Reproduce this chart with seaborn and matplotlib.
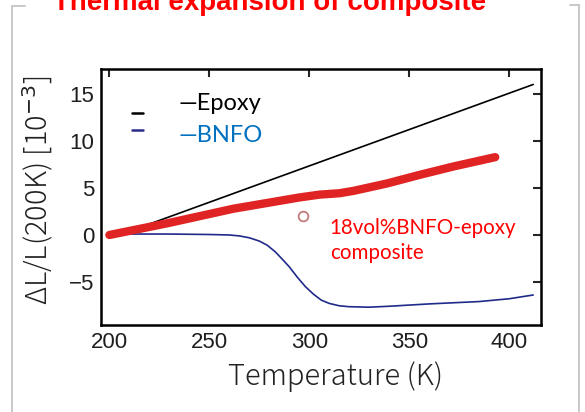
import numpy as np
import pandas as pd
import seaborn as sns
import matplotlib
matplotlib.use("Agg")
from matplotlib import pyplot as plt
from matplotlib.lines import Line2D

# %% data
epoxy_t = [205, 412]
epoxy_v = [0.0, 16.05]

bnfo_t = [200, 210, 230, 250, 260, 265, 270, 275, 279, 283, 287, 290, 294,
          298, 302, 306, 310, 315, 320, 330, 340, 360, 385, 400, 412]
bnfo_v = [0.0, 0.1, 0.1, 0.05, 0.0, -0.1, -0.3, -0.65, -1.1, -1.8, -2.7,
          -3.4, -4.5, -5.5, -6.3, -6.95, -7.3, -7.55, -7.65, -7.7, -7.6,
          -7.35, -7.1, -6.8, -6.4]

comp_t = [200, 229, 262, 295, 305, 315, 322, 339, 355, 372, 393]
comp_v = [0.0, 1.25, 2.8, 4.0, 4.3, 4.45, 4.7, 5.5, 6.4, 7.3, 8.3]

point_t = [297]
point_v = [2.0]

xticks = [200, 250, 300, 350, 400]
yticks = [-5, 0, 5, 10, 15]

# %%
sns.set_style("white")
plt.rcParams['font.family'] = ['Liberation Sans', 'DejaVu Sans']

fig = plt.figure(figsize=(5.85, 4.12), dpi=100)
ax = fig.add_axes([101/585, 87/412, 440/585, 256/412])

df_epoxy = pd.DataFrame({"T": epoxy_t, "v": epoxy_v})
df_bnfo = pd.DataFrame({"T": bnfo_t, "v": bnfo_v})
df_comp = pd.DataFrame({"T": comp_t, "v": comp_v})

sns.lineplot(data=df_bnfo, x="T", y="v", ax=ax, color="#1f2a8a", lw=1.2)
sns.lineplot(data=df_epoxy, x="T", y="v", ax=ax, color="black", lw=1.2)
sns.lineplot(data=df_comp, x="T", y="v", ax=ax, color="#e02424", lw=6,
             solid_capstyle="round")
ax.plot(point_t, point_v, "o", mfc="none", mec="#c47a7a", ms=7, mew=1.3)

ax.set_xlim(195.8, 415.9)
ax.set_ylim(-9.6, 17.7)
ax.set_xticks(xticks)
ax.set_yticks(yticks)
ax.set_yticklabels([str(v).replace('-', '\u2212') for v in yticks])
ax.set_xlabel("")
ax.set_ylabel("")
ax.tick_params(direction="in", length=6, width=1.5, top=True, right=True,
               labelsize=16, labelcolor="#1e1e1e", pad=5)
for s in ax.spines.values():
    s.set_linewidth(1.8)
    s.set_color("black")

# little legend marks from the original figure
ax.plot([0.070, 0.095], [0.828, 0.828], color="black", lw=1.8,
        transform=ax.transAxes)
ax.plot([0.070, 0.095], [0.762, 0.762], color="#2a2a8a", lw=1.8,
        transform=ax.transAxes)

ax.text(0.175, 0.865, "\u2014Epoxy", transform=ax.transAxes, fontsize=17,
        family="Lato", color="black", va="center", ha="left")
ax.text(0.175, 0.74, "\u2014BNFO", transform=ax.transAxes, fontsize=17,
        family="Lato", color="#0070c0", va="center", ha="left")
ax.text(0.52, 0.33, "18vol%BNFO-epoxy\ncomposite", transform=ax.transAxes,
        fontsize=14.8, family="Lato", color="red", va="center", ha="left",
        linespacing=1.3)

jp = ['Noto Sans CJK JP', 'DejaVu Sans']
fig.text(38/585, 1 - 190/412, "\u0394L/L(200K) [10$^{-3}$]", rotation=90,
         ha="center", va="center", fontsize=21, family=jp, fontweight="light",
         color="#222222")
fig.text(336/585, 1 - 377/412, "Temperature (K)", ha="center", va="center",
         fontsize=21, family=jp, fontweight="light", color="#222222")

fig.text(270/585, 1 - 10/412, "Thermal expansion of composite", ha="center",
         va="baseline", fontsize=20, fontweight="bold", color="red")

# slide frame
gray = "#c4c4c4"
for xs, ys in [([12, 12], [6, 412]), ([12, 25], [6, 6]),
               ([579, 579], [5, 412]), ([570, 579], [5, 5])]:
    fig.add_artist(Line2D([x/585 for x in xs], [1 - y/412 for y in ys],
                          color=gray, lw=1.3))

plt.savefig("out.png", dpi=100)
